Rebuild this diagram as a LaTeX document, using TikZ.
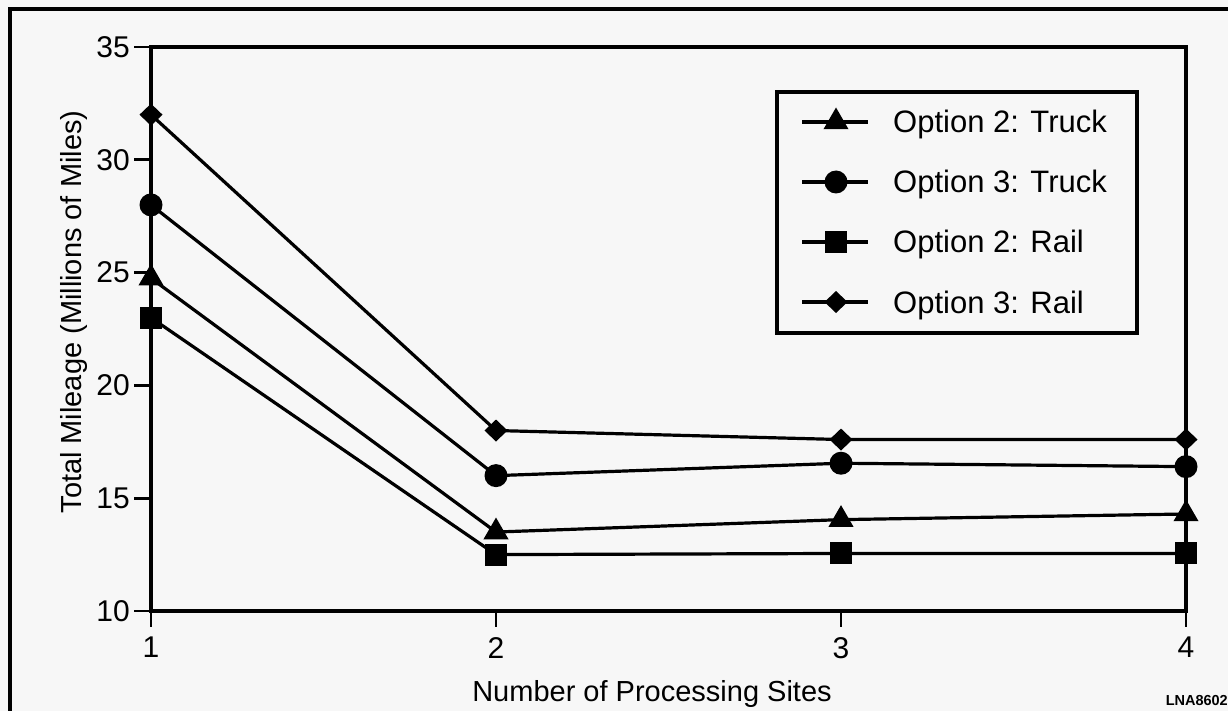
\documentclass[tikz,border=0pt]{standalone}
\usepackage{fontspec}
\setmainfont{Liberation Sans}
\usetikzlibrary{shapes.geometric}
\definecolor{bgc}{RGB}{247,247,247}
\begin{document}
\begin{tikzpicture}[x=1pt,y=-1pt,
  axisline/.style={line width=3.2pt},
  tickline/.style={line width=2.8pt},
  dataline/.style={line width=3.2pt},
  mk/.style={fill=black,draw=none,inner sep=0pt,outer sep=0pt},
  circmk/.style={mk,circle,minimum size=23pt},
  sqmk/.style={mk,rectangle,minimum size=22pt},
  diamk/.style={mk,diamond,minimum width=23pt,minimum height=22pt},
  trimk/.style={mk,regular polygon,regular polygon sides=3,minimum size=29pt},
  ticklab/.style={inner sep=0pt,font=\fontsize{30}{36}\selectfont},
  axlab/.style={inner sep=0pt,font=\fontsize{29}{35}\selectfont},
  leglab/.style={inner sep=0pt,anchor=base west,font=\fontsize{31}{37}\selectfont}
]
\useasboundingbox (0,0) rectangle (1228,711);
\fill[bgc] (0,0) rectangle (1228,711);
% outer frame
\coordinate (fbl) at (10,713);
\coordinate (ftl) at (10,9);
\coordinate (ftr) at (1230,9);
\draw[line width=3.5pt] (fbl) -- (ftl) -- (ftr);
% plot frame
\coordinate (pbl) at (151,611);
\coordinate (ptl) at (151,47);
\coordinate (ptr) at (1186,47);
\coordinate (pbr) at (1186,611);
\draw[axisline] (pbl) -- (ptl) -- (ptr) -- (pbr) -- cycle;
% y ticks
\foreach \v/\yy in {10/611,15/498.2,20/385.4,25/272.6,30/159.8,35/47}{
  \coordinate (yt\v) at (151,\yy);
  \coordinate (ytl\v) at (134,\yy);
  \draw[tickline] (yt\v) -- (ytl\v);
  \node[ticklab,anchor=east] (ylab\v) at (130,\yy) {\v};
}
% x ticks
\foreach \i/\xx in {1/151,2/496,3/841,4/1186}{
  \coordinate (xt\i) at (\xx,611);
  \coordinate (xtl\i) at (\xx,627);
  \draw[tickline] (xt\i) -- (xtl\i);
  \node[ticklab,anchor=north] (xlab\i) at (\xx,637) {\i};
}
% axis labels
\node[axlab,anchor=base,rotate=90] (ylabel) at (81,312) {Total Mileage (Millions of Miles)};
\node[axlab,anchor=base] (xlabel) at (652,701) {Number of Processing Sites};
\node[inner sep=0pt,anchor=base east,font=\fontsize{14.5}{17}\selectfont\bfseries] (code) at (1228,705) {LNA8602};
% data
\begin{scope}[shift={(151,611)},x=345pt,y=22.56pt]
  % Option 3: Rail (diamond)
  \node[diamk] (d1) at (0,22) {};
  \node[diamk] (d2) at (1,8) {};
  \node[diamk] (d3) at (2,7.6) {};
  \node[diamk] (d4) at (3,7.6) {};
  % Option 3: Truck (circle)
  \node[circmk] (c1) at (0,18) {};
  \node[circmk] (c2) at (1,6) {};
  \node[circmk] (c3) at (2,6.55) {};
  \node[circmk] (c4) at (3,6.4) {};
  % Option 2: Truck (triangle)
  \node[trimk] (t1) at (0,14.75) {};
  \node[trimk] (t2) at (1,3.5) {};
  \node[trimk] (t3) at (2,4.05) {};
  \node[trimk] (t4) at (3,4.3) {};
  % Option 2: Rail (square)
  \node[sqmk] (s1) at (0,13) {};
  \node[sqmk] (s2) at (1,2.5) {};
  \node[sqmk] (s3) at (2,2.55) {};
  \node[sqmk] (s4) at (3,2.55) {};
\end{scope}
\draw[dataline] (d1.center) -- (d2.center) -- (d3.center) -- (d4.center);
\draw[dataline] (c1.center) -- (c2.center) -- (c3.center) -- (c4.center);
\draw[dataline] (t1.center) -- (t2.center) -- (t3.center) -- (t4.center);
\draw[dataline] (s1.center) -- (s2.center) -- (s3.center) -- (s4.center);
% legend
\node[draw,line width=3.2pt,fill=bgc,minimum width=360pt,minimum height=241pt,inner sep=0pt] (legend) at (957,212.5) {};
\foreach \n/\yy/\st/\txt in {lt/122/trimk/{Option 2: Truck},lc/182/circmk/{Option 3: Truck},ls/242/sqmk/{Option 2: Rail},ld/302/diamk/{Option 3: Rail}}{
  \coordinate (\n a) at (802,\yy);
  \coordinate (\n b) at (868,\yy);
  \draw[dataline] (\n a) -- (\n b);
  \node[\st] (\n m) at (836,\yy) {};
  \node[leglab] (\n t) at (893,\yy+11) {\txt};
}
\end{tikzpicture}
\end{document}
